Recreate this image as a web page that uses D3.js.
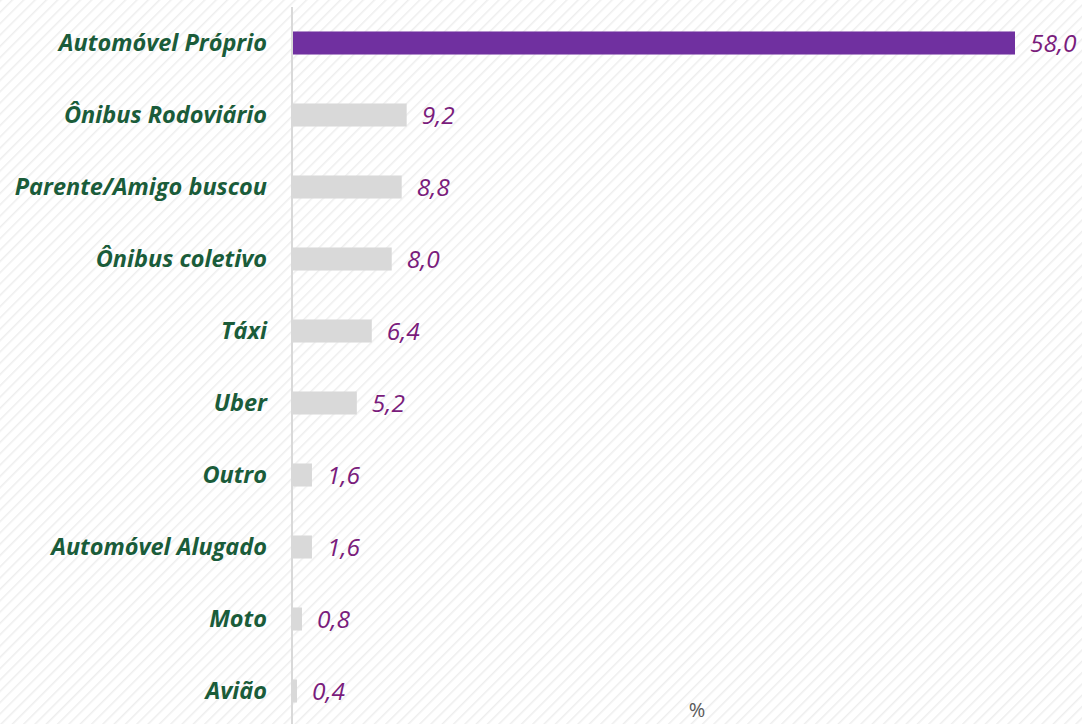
<!DOCTYPE html>
<html lang="pt">
<head>
<meta charset="utf-8">
<script src="https://d3js.org/d3.v7.min.js"></script>
<title>Meio de transporte</title>
<style>
body { margin: 0; background: #ffffff; }
.cat text { font: italic bold 23.5px "Open Sans", sans-serif; fill: #1a5c3a; }
.val { font: italic 24.5px "Open Sans", sans-serif; fill: #7a1c7c; }
</style>
</head>
<body>
<script>
// categories and values (%)
var categories = ["Automóvel Próprio", "Ônibus Rodoviário", "Parente/Amigo buscou", "Ônibus coletivo",
  "Táxi", "Uber", "Outro", "Automóvel Alugado", "Moto", "Avião"];
var values = [58.0, 9.2, 8.8, 8.0, 6.4, 5.2, 1.6, 1.6, 0.8, 0.4];
var valueLabels = ["58,0", "9,2", "8,8", "8,0", "6,4", "5,2", "1,6", "1,6", "0,8", "0,4"];

var width = 1082, height = 724;
var marginLeft = 292, marginTop = 7;

var svg = d3.select("body").append("svg")
  .attr("width", width)
  .attr("height", height);

// hatched background
var pat = svg.append("defs").append("pattern")
  .attr("id", "hatch")
  .attr("width", 8).attr("height", 8)
  .attr("patternUnits", "userSpaceOnUse")
  .attr("patternTransform", "rotate(45)");
pat.append("rect").attr("width", 8).attr("height", 8).attr("fill", "#ffffff");
pat.append("line")
  .attr("x1", 0).attr("y1", 0).attr("x2", 0).attr("y2", 8)
  .attr("stroke", "#eeeeee").attr("stroke-width", 3);
svg.append("rect").attr("width", width).attr("height", height).attr("fill", "url(#hatch)");

var x = d3.scaleLinear().domain([0, 58]).range([marginLeft, 1015]);
var y = d3.scaleBand().domain(categories).range([marginTop, marginTop + 72 * 10]).paddingInner(0.68).paddingOuter(0.34);

svg.selectAll("rect.bar")
  .data(values)
  .enter().append("rect")
  .attr("class", "bar")
  .attr("x", x(0))
  .attr("y", function(d, i) { return y(categories[i]); })
  .attr("width", function(d) { return x(d) - x(0); })
  .attr("height", y.bandwidth())
  .attr("fill", function(d, i) { return i == 0 ? "#7030a0" : "#d9d9d9"; });

svg.selectAll("text.val")
  .data(values)
  .enter().append("text")
  .attr("class", "val")
  .attr("x", function(d) { return x(d) + 15; })
  .attr("y", function(d, i) { return y(categories[i]) + y.bandwidth() / 2; })
  .attr("dy", "0.36em")
  .text(function(d, i) { return valueLabels[i]; });

// category axis
var yAxis = d3.axisLeft(y).tickSize(0).tickPadding(25);
var g = svg.append("g")
  .attr("class", "cat")
  .attr("transform", "translate(" + marginLeft + ",0)")
  .call(yAxis);
g.select(".domain").remove();

svg.append("line")
  .attr("x1", marginLeft).attr("x2", marginLeft)
  .attr("y1", marginTop).attr("y2", height)
  .attr("stroke", "#d9d9d9").attr("stroke-width", 2);

svg.append("text")
  .attr("x", 697).attr("y", 717)
  .attr("text-anchor", "middle")
  .style("font", "20px 'Open Sans', sans-serif")
  .style("fill", "#595959")
  .text("%");
</script>
</body>
</html>
